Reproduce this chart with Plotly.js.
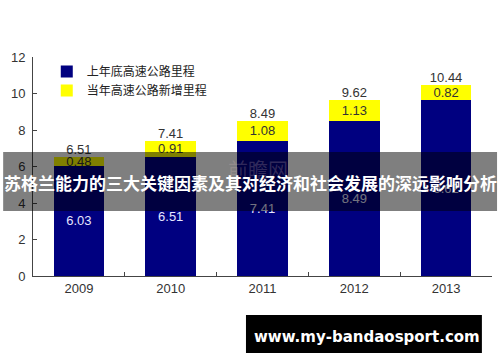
<!DOCTYPE html>
<html><head><meta charset="utf-8">
<script src="https://cdn.plot.ly/plotly-3.0.1.min.js"></script>
<style>html,body{margin:0;padding:0;background:#fff;}#chart{width:500px;height:362px;}</style>
</head><body><div id="chart"></div>
<script>
const years = ['2009','2010','2011','2012','2013'];
const baseMileage = [6.03, 6.51, 7.41, 8.49, 9.62];
const newMileage = [0.48, 0.91, 1.08, 1.13, 0.82];
const totalMileage = [6.51, 7.41, 8.49, 9.62, 10.44];
const seriesNames = ['上年底高速公路里程', '当年高速公路新增里程'];
const yTicks = [0, 2, 4, 6, 8, 10, 12];
const overlayTitle = '苏格兰能力的三大关键因素及其对经济和社会发展的深远影响分析';
const siteText = 'www.my-bandaosport.com';
const watermark = '前瞻网';

const numFont = 'Liberation Sans, Arial, sans-serif';
const cjkFont = 'Noto Sans CJK SC, sans-serif';

const traces = [
  {type:'bar', x:years, y:baseMileage, name:seriesNames[0],
   marker:{color:'#000080', line:{width:0}},
   text:baseMileage.map(v=>v.toFixed(2)), textposition:'inside', insidetextanchor:'middle',
   textfont:{family:numFont, size:13, color:'#e6e6ff'}, hoverinfo:'none', cliponaxis:false},
  {type:'bar', x:years, y:newMileage, name:seriesNames[1],
   marker:{color:'#ffff00', line:{width:0}},
   text:newMileage.map(v=>v.toFixed(2)), textposition:'inside', insidetextanchor:'middle',
   textfont:{family:numFont, size:13, color:'#333333'}, hoverinfo:'none', constraintext:'none'},
  {type:'scatter', mode:'text', x:years, y:totalMileage, showlegend:false,
   text:totalMileage.map(v=>v.toFixed(2)), textposition:'top center',
   textfont:{family:numFont, size:13, color:'#333333'}, hoverinfo:'none', cliponaxis:false}
];

const layout = {
  width:500, height:362,
  margin:{l:33, r:8, t:57, b:86},
  paper_bgcolor:'#ffffff', plot_bgcolor:'#ffffff',
  barmode:'stack', bargap:0.45,
  showlegend:true,
  legend:{x:0.03, y:1.0, xanchor:'left', yanchor:'top', traceorder:'normal',
          font:{family:cjkFont, size:12, color:'#222'}, bgcolor:'rgba(0,0,0,0)',
          tracegroupgap:0, itemwidth:30},
  xaxis:{type:'category', showline:true, linecolor:'#444', linewidth:1,
         ticks:'inside', tickson:'boundaries', ticklen:4, tickcolor:'#444',
         tickfont:{family:numFont, size:13, color:'#333'}, showgrid:false, zeroline:false,
         range:[-0.5,4.5]},
  yaxis:{range:[0,12], tickvals:yTicks, showline:true, linecolor:'#444', linewidth:1,
         ticks:'inside', ticklen:4, tickcolor:'#444', showgrid:false, zeroline:false,
         tickfont:{family:numFont, size:13, color:'#333'}, ticklabelstandoff:4},
  shapes:[
    {type:'rect', xref:'paper', yref:'paper', x0:-0.065, x1:1.011, y0:0.297, y1:0.566,
     fillcolor:'rgba(0,0,0,0.5)', line:{width:0}, layer:'above'},
    {type:'rect', xref:'paper', yref:'paper', x0:0.464, x1:0.978, y0:-0.352, y1:-0.178,
     fillcolor:'#000000', line:{width:0}, layer:'above'}
  ],
  annotations:[
    {xref:'paper', yref:'paper', x:0.49, y:0.485, text:watermark, showarrow:false,
     font:{family:cjkFont, size:20, color:'rgba(220,190,190,0.22)'}, xanchor:'center', yanchor:'middle'},
    {xref:'paper', yref:'paper', x:0.473, y:0.425, text:'<b>'+overlayTitle+'</b>', showarrow:false,
     font:{family:cjkFont, size:17, color:'#ffffff'}, xanchor:'center', yanchor:'middle'},
    {xref:'paper', yref:'paper', x:0.728, y:-0.278, text:'<b>'+siteText+'</b>', showarrow:false,
     font:{family:'DejaVu Sans, sans-serif', size:15, color:'#ffffff'}, xanchor:'center', yanchor:'middle'}
  ]
};

Plotly.newPlot('chart', traces, layout, {displayModeBar:false, staticPlot:true});
</script></body></html>
